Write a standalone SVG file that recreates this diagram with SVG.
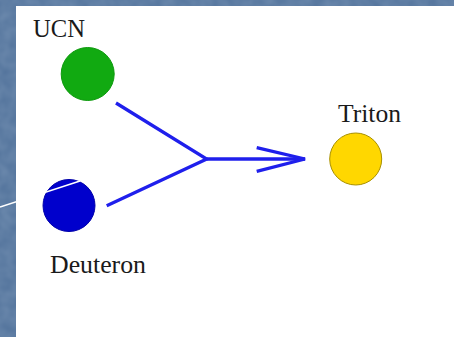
<svg xmlns="http://www.w3.org/2000/svg" width="454" height="337" viewBox="0 0 454 337">
<style>
.lbl{font-family:"Liberation Serif","Times New Roman",serif;font-size:25px;fill:#1a1a1a}
.conn{stroke:#1f1fec;stroke-width:3.3;fill:none;stroke-linecap:butt;stroke-linejoin:miter}
</style>
<defs>
<filter id="tex" x="0" y="0" width="100%" height="100%">
<feTurbulence type="fractalNoise" baseFrequency="0.08" numOctaves="2" seed="3" result="n"/>
<feColorMatrix in="n" type="matrix" values="0 0 0 0 0.36  0 0 0 0 0.48  0 0 0 0 0.64  0 0 0 0.35 0"/>
</filter>
</defs>
<rect x="0" y="0" width="454" height="337" fill="#50719a"/>
<rect x="0" y="0" width="454" height="337" filter="url(#tex)"/>
<rect x="16" y="6" width="438" height="331" fill="#ffffff"/>
<g id="connectors">
<path class="conn" d="M116,103 L206.7,159 L106.7,205.7"/>
<path class="conn" d="M206.7,159 L305,159"/>
<path class="conn" d="M256.7,147.7 L305,159 L256.7,171.3"/>
</g>
<g id="ucn">
<circle cx="87.7" cy="74" r="26.5" fill="#11aa11" stroke="#0e9a0e" stroke-width="1"/>
<text class="lbl" x="33" y="37" textLength="52" lengthAdjust="spacingAndGlyphs">UCN</text>
</g>
<g id="deuteron">
<circle cx="69" cy="205.5" r="26" fill="#0000cc" stroke="#0000aa" stroke-width="1"/>
<text class="lbl" x="50" y="272.5" textLength="96" lengthAdjust="spacingAndGlyphs">Deuteron</text>
</g>
<g id="triton">
<circle cx="355.7" cy="159" r="26" fill="#ffd700" stroke="#a89000" stroke-width="1"/>
<text class="lbl" x="338" y="121.5" textLength="63" lengthAdjust="spacingAndGlyphs">Triton</text>
</g>
<line x1="0" y1="207" x2="80" y2="181" stroke="#ffffff" stroke-width="1.5"/>
</svg>
